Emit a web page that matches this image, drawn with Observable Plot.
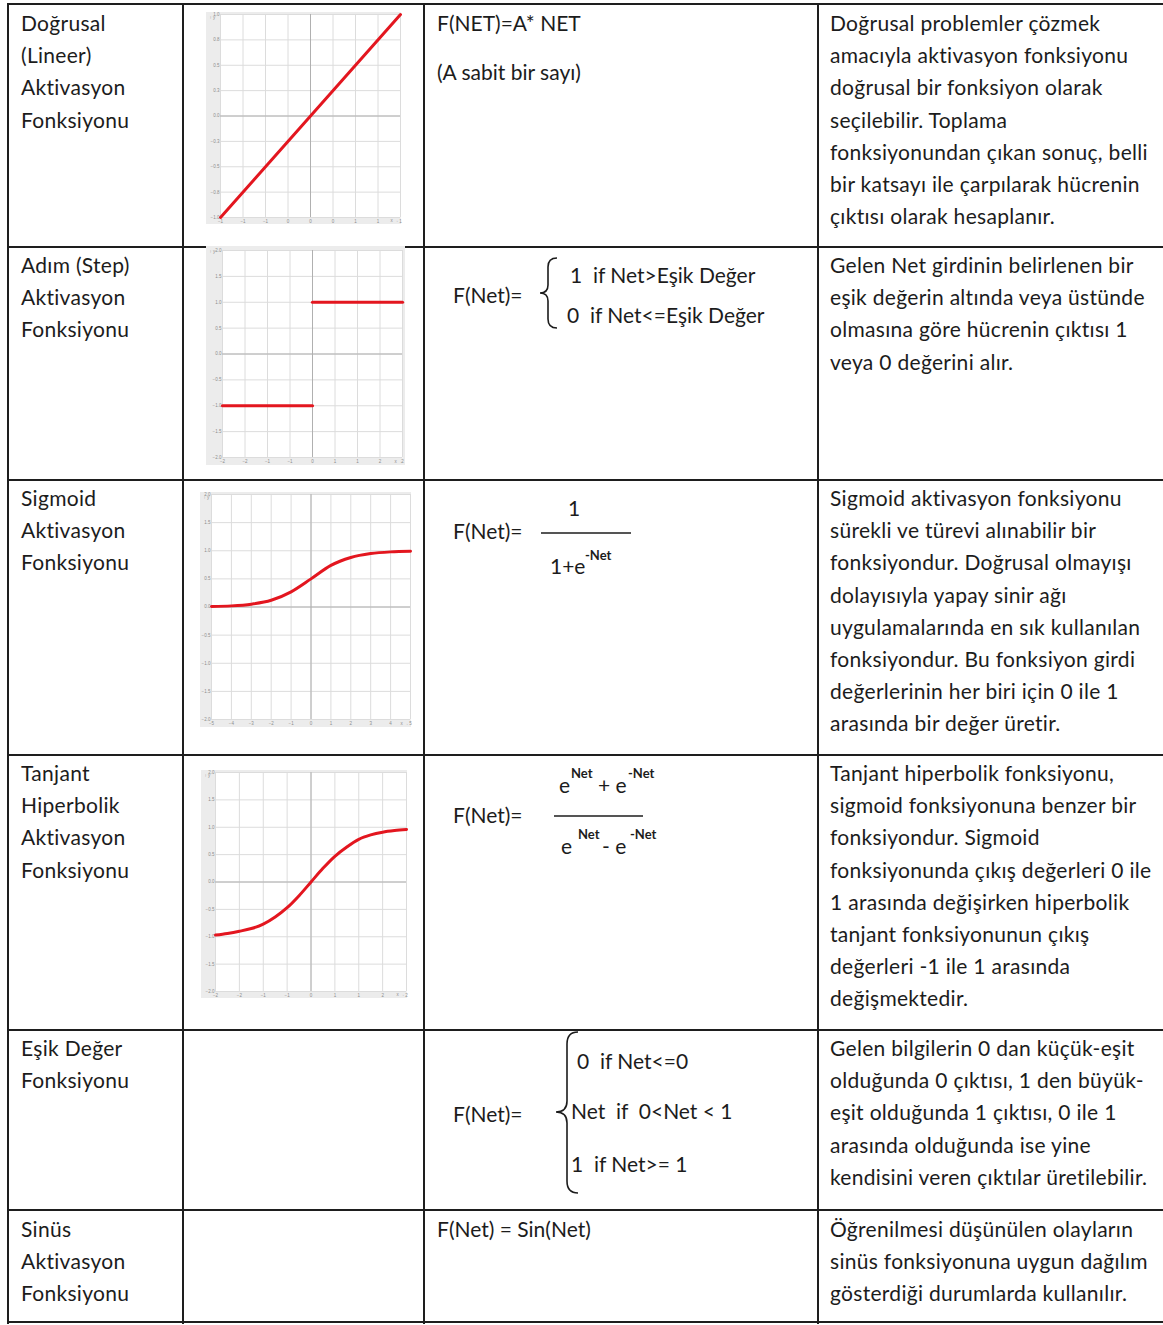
<!DOCTYPE html>
<html><head><meta charset="utf-8">
<script src="https://cdn.jsdelivr.net/npm/d3@7"></script>
<script src="https://cdn.jsdelivr.net/npm/@observablehq/plot@0.6"></script>
<style>
html,body{margin:0;padding:0;background:#fff;}
#page{position:relative;width:1163px;height:1325px;overflow:hidden;font-family:Lato,"Open Sans",sans-serif;color:#1c1c1c;}
.t{position:absolute;white-space:pre;font-size:21px;line-height:32px;letter-spacing:0.3px;}
.hl{position:absolute;height:2px;background:#1e1e1e;}
.vl{position:absolute;width:2px;background:#1e1e1e;}
.chart{position:absolute;}
.chart svg{display:block;}
</style></head>
<body><div id="page"></div>
<script>
// ---------- data ----------
const functionNames = [
  ["Doğrusal","(Lineer)","Aktivasyon","Fonksiyonu"],
  ["Adım (Step)","Aktivasyon","Fonksiyonu"],
  ["Sigmoid","Aktivasyon","Fonksiyonu"],
  ["Tanjant","Hiperbolik","Aktivasyon","Fonksiyonu"],
  ["Eşik Değer","Fonksiyonu"],
  ["Sinüs","Aktivasyon","Fonksiyonu"]
];
const descriptions = [
  ["Doğrusal problemler çözmek","amacıyla aktivasyon fonksiyonu","doğrusal bir fonksiyon olarak","seçilebilir. Toplama","fonksiyonundan çıkan sonuç, belli","bir katsayı ile çarpılarak hücrenin","çıktısı olarak hesaplanır."],
  ["Gelen Net girdinin belirlenen bir","eşik değerin altında veya üstünde","olmasına göre hücrenin çıktısı 1","veya 0 değerini alır."],
  ["Sigmoid aktivasyon fonksiyonu","sürekli ve türevi alınabilir bir","fonksiyondur. Doğrusal olmayışı","dolayısıyla yapay sinir ağı","uygulamalarında en sık kullanılan","fonksiyondur. Bu fonksiyon girdi","değerlerinin her biri için 0 ile 1","arasında bir değer üretir."],
  ["Tanjant hiperbolik fonksiyonu,","sigmoid fonksiyonuna benzer bir","fonksiyondur. Sigmoid","fonksiyonunda çıkış değerleri 0 ile","1 arasında değişirken hiperbolik","tanjant fonksiyonunun çıkış","değerleri -1 ile 1 arasında","değişmektedir."],
  ["Gelen bilgilerin 0 dan küçük-eşit","olduğunda 0 çıktısı, 1 den büyük-","eşit olduğunda 1 çıktısı, 0 ile 1","arasında olduğunda ise yine","kendisini veren çıktılar üretilebilir."],
  ["Öğrenilmesi düşünülen olayların","sinüs fonksiyonuna uygun dağılım","gösterdiği durumlarda kullanılır."]
];

// linear chart
const linearX = [-1, 1];
const linearY = [-1, 1];
const linearTicks = [-1, -0.75, -0.5, -0.25, 0, 0.25, 0.5, 0.75, 1];
// step chart
const stepX = [-2, 0, 0, 2];
const stepY = [-1, -1, 1, 1];
const stepSegment = [0, 0, 1, 1];
const stepTicks = [-2, -1.5, -1, -0.5, 0, 0.5, 1, 1.5, 2];
// sigmoid chart
const sigmoidX = [-5, -4, -3, -2, -1, 0, 1, 2, 3, 4, 5];
const sigmoidY = [0.01, 0.02, 0.05, 0.12, 0.27, 0.5, 0.74, 0.88, 0.95, 0.98, 0.99];
const sigmoidXTicks = [-5, -4, -3, -2, -1, 0, 1, 2, 3, 4, 5];
const sigmoidYTicks = [-2, -1.5, -1, -0.5, 0, 0.5, 1, 1.5, 2];
// tanh chart
const tanhX = [-2, -1.75, -1.5, -1.25, -1, -0.75, -0.5, -0.25, 0, 0.25, 0.5, 0.75, 1, 1.25, 1.5, 1.75, 2];
const tanhY = [-0.97, -0.94, -0.9, -0.85, -0.77, -0.64, -0.47, -0.25, 0, 0.25, 0.47, 0.64, 0.78, 0.86, 0.91, 0.94, 0.96];
const tanhTicks = [-2, -1.5, -1, -0.5, 0, 0.5, 1, 1.5, 2];

// ---------- layout ----------
const page = document.getElementById("page");
function el(cls, css, html) {
  const d = document.createElement("div");
  d.className = cls;
  Object.assign(d.style, css);
  if (html !== undefined) d.innerHTML = html;
  page.appendChild(d);
  return d;
}
function text(x, yc, s, size, extra) {
  const fs = size || 21;
  const d = el("t", Object.assign({left: x + "px", top: (yc - 16) + "px", fontSize: fs + "px"}, extra || {}));
  d.textContent = s;
  return d;
}
const F = {letterSpacing: "0px"};
const SUP = {fontWeight: 700, letterSpacing: "0px"};

// table lines
const rowLines = [4, 247, 480, 755, 1030, 1210, 1322];
const colLines = [8, 183, 424, 818];
rowLines.forEach(y => el("hl", {left: "8px", top: (y - 1) + "px", width: "1160px"}));
colLines.forEach(x => el("vl", {left: (x - 1) + "px", top: "3px", height: "1321px"}));

// names and descriptions
const rowTops = [5, 247, 480, 755, 1030, 1211];
functionNames.forEach((lines, r) => lines.forEach((s, i) => text(21, rowTops[r] + 18 + i * 32.2, s)));
descriptions.forEach((lines, r) => lines.forEach((s, i) => text(830, rowTops[r] + 18 + i * 32.2, s)));

// formulas
text(437, 23, "F(NET)=A* NET", 21, F);
text(437, 72, "(A sabit bir sayı)", 21, F);
// step
text(453, 295, "F(Net)=", 21, F);
text(570, 275, "1  if Net>Eşik Değer", 21, F);
text(567, 315, "0  if Net<=Eşik Değer", 21, F);
// sigmoid
text(453, 531, "F(Net)=", 21, F);
text(568, 508, "1", 21, F);
text(550, 566, "1+e", 21, F);
text(585, 555, "-Net", 13, SUP);
// tanh
text(559, 785, "e", 21, F);
text(571, 773, "Net", 13, SUP);
text(598, 785, "+ e", 21, F);
text(628, 773, "-Net", 13, SUP);
text(453, 815, "F(Net)=", 21, F);
text(561, 846, "e", 21, F);
text(578, 834, "Net", 13, SUP);
text(602, 846, "- e", 21, F);
text(630, 834, "-Net", 13, SUP);
// threshold
text(453, 1114, "F(Net)=", 21, F);
text(577, 1061, "0  if Net<=0", 21, F);
text(571, 1111, "Net  if  0<Net < 1", 21, F);
text(571, 1164, "1  if Net>= 1", 21, F);
// sine
text(437, 1229, "F(Net) = Sin(Net)", 21, F);

// braces and fraction bars (decoration)
const deco = document.createElementNS("http://www.w3.org/2000/svg", "svg");
deco.setAttribute("width", 1163); deco.setAttribute("height", 1325);
Object.assign(deco.style, {position: "absolute", left: 0, top: 0, pointerEvents: "none"});
deco.innerHTML = `
<path d="M557,258 Q548,258 548,267 L548,285 Q548,293 540,293 Q548,293 548,301 L548,319 Q548,328 557,328" fill="none" stroke="#1c1c1c" stroke-width="1.6"/>
<path d="M578,1032 Q567,1032 567,1044 L567,1101 Q567,1112 556,1112 Q567,1112 567,1123 L567,1181 Q567,1193 578,1193" fill="none" stroke="#1c1c1c" stroke-width="1.6"/>
<line x1="541" y1="533" x2="631" y2="533" stroke="#1c1c1c" stroke-width="1.6"/>
<line x1="554" y1="816" x2="643" y2="816" stroke="#1c1c1c" stroke-width="1.6"/>`;
page.appendChild(deco);

// ---------- charts ----------
const RED = "#e3161f";
function chart({left, top, width, height, ml, mr, mt, mb, xDomain, yDomain, xTicks, yTicks, marks}) {
  const p = Plot.plot({
    width, height,
    marginLeft: ml, marginRight: mr, marginTop: mt, marginBottom: mb,
    style: {background: "#ececec", color: "#8c8c8c", fontSize: "4.5px", fontFamily: "sans-serif", overflow: "visible"},
    x: {domain: xDomain, ticks: xTicks},
    y: {domain: yDomain, ticks: yTicks},
    marks: [
      Plot.frame({fill: "white", stroke: null}),
      Plot.gridX(xTicks, {stroke: "#dcdcdc", strokeOpacity: 1}),
      Plot.gridY(yTicks, {stroke: "#dcdcdc", strokeOpacity: 1}),
      Plot.ruleX([0], {stroke: "#b0b0b0"}),
      Plot.ruleY([0], {stroke: "#b0b0b0"}),
      Plot.axisX(xTicks, {tickSize: 0, tickPadding: 2, fill: "#8c8c8c"}),
      Plot.axisY(yTicks, {tickSize: 0, tickPadding: 1, fill: "#8c8c8c"}),
      ...marks
    ]
  });
  const wrap = el("chart", {left: left + "px", top: top + "px"});
  wrap.appendChild(p);
}

chart({
  left: 206, top: 12, width: 195, height: 212, ml: 14, mr: 1, mt: 2, mb: 7,
  xDomain: [-1, 1], yDomain: [-1, 1], xTicks: linearTicks, yTicks: linearTicks,
  marks: [Plot.line(linearX.map((x, i) => ({x, y: linearY[i]})), {x: "x", y: "y", stroke: RED, strokeWidth: 3})]
});
chart({
  left: 206, top: 246, width: 199, height: 219, ml: 16, mr: 3, mt: 4, mb: 8,
  xDomain: [-2, 2], yDomain: [-2, 2], xTicks: stepTicks, yTicks: stepTicks,
  marks: [Plot.line(stepX.map((x, i) => ({x, y: stepY[i], s: stepSegment[i]})), {x: "x", y: "y", z: "s", stroke: RED, strokeWidth: 3.2})]
});
chart({
  left: 200, top: 492, width: 211, height: 235, ml: 11, mr: 1, mt: 2, mb: 8,
  xDomain: [-5, 5], yDomain: [-2, 2], xTicks: sigmoidXTicks, yTicks: sigmoidYTicks,
  marks: [Plot.line(sigmoidX.map((x, i) => ({x, y: sigmoidY[i]})), {x: "x", y: "y", curve: "monotone-x", stroke: RED, strokeWidth: 3})]
});
chart({
  left: 201, top: 770, width: 206, height: 228, ml: 14, mr: 1, mt: 2, mb: 7,
  xDomain: [-2, 2], yDomain: [-2, 2], xTicks: tanhTicks, yTicks: tanhTicks,
  marks: [Plot.line(tanhX.map((x, i) => ({x, y: tanhY[i]})), {x: "x", y: "y", curve: "monotone-x", stroke: RED, strokeWidth: 3})]
});
</script>
</body></html>
